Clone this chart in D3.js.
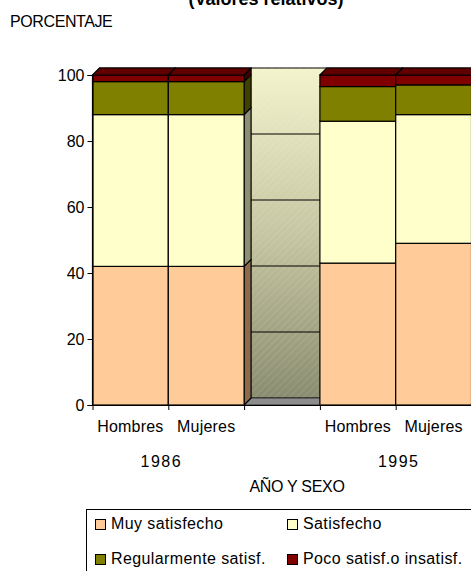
<!DOCTYPE html>
<html><head><meta charset="utf-8">
<script src="https://cdn.jsdelivr.net/npm/d3@7/dist/d3.min.js"></script>
<style>
body{margin:0;background:#fff}
svg{display:block}
text{font-family:"Liberation Sans",Arial,sans-serif;fill:#000}
</style>
</head><body>
<svg id="c" width="471" height="571"></svg>
<script>
// ---- data ----
const categories = ["Hombres", "Mujeres", "", "Hombres", "Mujeres"];
const yearLabels = ["1986", "1995"];
const seriesNames = ["Muy satisfecho", "Satisfecho", "Regularmente satisf.", "Poco satisf.o insatisf."];
const muySatisfecho = [42, 42, null, 43, 49];
const satisfecho = [46, 46, null, 43, 39];
const regularmente = [10, 10, null, 10.5, 9];
const poco = [2, 2, null, 3.5, 3];
const yTicks = [0, 20, 40, 60, 80, 100];
const titleText = "(Valores relativos)";
const yTitle = "PORCENTAJE";
const xTitle = "AÑO Y SEXO";

// ---- styles ----
const frontColors = ["#FFCC99", "#FFFFCC", "#808000", "#800000"];
const sideColors = ["#8C6A4C", "#8E8E72", "#404000", "#400000"];
const topColors = ["#CCA37A", "#CCCCA3", "#606000", "#600000"];
const dx = 7, dy = -7;

const svg = d3.select("#c");
const defs = svg.append("defs");
const grad = defs.append("linearGradient").attr("id", "wall")
  .attr("x1", 0).attr("y1", 0).attr("x2", 0).attr("y2", 1);
grad.append("stop").attr("offset", "0%").attr("stop-color", "#F3F3CC");
grad.append("stop").attr("offset", "50%").attr("stop-color", "#C6C6A2");
grad.append("stop").attr("offset", "100%").attr("stop-color", "#8A8C70");
const pat = defs.append("pattern").attr("id", "hatch").attr("patternUnits", "userSpaceOnUse")
  .attr("width", 5).attr("height", 5).attr("patternTransform", "rotate(45)");
pat.append("line").attr("x1", 0).attr("y1", 0).attr("x2", 0).attr("y2", 5)
  .attr("stroke", "#ffffff").attr("stroke-opacity", 0.18).attr("stroke-width", 1.2);

// ---- scales ----
const y = d3.scaleLinear().domain([0, 100]).range([405, 75]);
const xb = d3.scaleLinear().domain([0, categories.length]).range([92.5, 471.5]);

// ---- stacked data ----
const rows = categories.map((c, i) => ({
  i, valid: muySatisfecho[i] != null,
  [seriesNames[0]]: muySatisfecho[i] || 0,
  [seriesNames[1]]: satisfecho[i] || 0,
  [seriesNames[2]]: regularmente[i] || 0,
  [seriesNames[3]]: poco[i] || 0
}));
const stacked = d3.stack().keys(seriesNames)(rows);

// ---- back wall ----
const wx0 = xb(0) + dx, wx1 = xb(categories.length) + dx;
svg.append("rect").attr("x", wx0).attr("y", y(100) + dy)
  .attr("width", wx1 - wx0).attr("height", y(0) - y(100))
  .attr("fill", "url(#wall)").attr("stroke", "#000").attr("stroke-width", 1);
svg.append("rect").attr("x", wx0).attr("y", y(100) + dy)
  .attr("width", wx1 - wx0).attr("height", y(0) - y(100))
  .attr("fill", "url(#hatch)");
svg.append("g").selectAll("line").data(yTicks.filter(t => t > 0 && t < 100)).join("line")
  .attr("x1", wx0).attr("x2", wx1)
  .attr("y1", d => y(d) + dy).attr("y2", d => y(d) + dy)
  .attr("stroke", "#000").attr("stroke-width", 1);

// ---- floor ----
const fl = [[xb(0), y(0)], [xb(0) + dx, y(0) + dy], [xb(categories.length) + dx, y(0) + dy], [xb(categories.length), y(0)]];
svg.append("polygon").attr("points", fl.map(p => p.join(",")).join(" "))
  .attr("fill", "#8C8C8C").attr("stroke", "#333").attr("stroke-width", 1);

// ---- bars ----
const gBars = svg.append("g");
rows.forEach((r, i) => {
  if (!r.valid) return;
  const x0 = xb(i), x1 = xb(i + 1);
  const g = gBars.append("g");
  stacked.forEach((s, k) => {
    const y0 = y(s[i][0]), y1 = y(s[i][1]);
    g.append("polygon")
      .attr("points", [[x1, y1], [x1 + dx, y1 + dy], [x1 + dx, y0 + dy], [x1, y0]].map(p => p.join(",")).join(" "))
      .attr("fill", sideColors[k]).attr("stroke", "#000").attr("stroke-width", 1.2).attr("stroke-linejoin", "round");
  });
  stacked.forEach((s, k) => {
    const y0 = y(s[i][0]), y1 = y(s[i][1]);
    g.append("rect").attr("x", x0).attr("y", y1).attr("width", x1 - x0).attr("height", y0 - y1)
      .attr("fill", frontColors[k]).attr("stroke", "#000").attr("stroke-width", 1.2);
  });
  const last = stacked.length - 1;
  const yt = y(stacked[last][i][1]);
  g.append("polygon")
    .attr("points", [[x0, yt], [x0 + dx, yt + dy], [x1 + dx, yt + dy], [x1, yt]].map(p => p.join(",")).join(" "))
    .attr("fill", topColors[last]).attr("stroke", "#000").attr("stroke-width", 1.2).attr("stroke-linejoin", "round");
});

// ---- axes ----
const yAxis = svg.append("g").attr("transform", `translate(${xb(0)},0)`)
  .call(d3.axisLeft(y).tickValues(yTicks).tickSize(5).tickPadding(3).tickFormat(d3.format("d")));
yAxis.select(".domain").attr("stroke", "#000").attr("stroke-width", 1.2);
yAxis.selectAll(".tick line").attr("stroke", "#000");
yAxis.selectAll("text").attr("font-size", 16).attr("font-family", '"Liberation Sans",Arial,sans-serif').attr("fill", "#000");

const xAxis = svg.append("g").attr("transform", `translate(0,${y(0)})`)
  .call(d3.axisBottom(xb).tickValues(d3.range(categories.length + 1)).tickSize(5).tickSizeOuter(0).tickFormat(""));
xAxis.select(".domain").attr("stroke", "#000").attr("stroke-width", 1.2);
xAxis.selectAll(".tick line").attr("stroke", "#000");

svg.append("g").selectAll("text").data(categories).join("text")
  .attr("x", (d, i) => (xb(i) + xb(i + 1)) / 2).attr("y", 432)
  .attr("text-anchor", "middle").attr("font-size", 16).attr("letter-spacing", 0.2)
  .text(d => d);

svg.append("g").selectAll("text").data(yearLabels).join("text")
  .attr("x", (d, i) => i === 0 ? xb(1) - 7 : xb(4) + 3).attr("y", 467)
  .attr("text-anchor", "middle").attr("font-size", 16).attr("letter-spacing", 1.5)
  .text(d => d);

svg.append("text").attr("x", 297).attr("y", 492).attr("text-anchor", "middle")
  .attr("font-size", 16).attr("letter-spacing", -0.3).text(xTitle);

svg.append("text").attr("x", 10).attr("y", 27).attr("font-size", 16).attr("letter-spacing", -0.4).text(yTitle);

svg.append("text").attr("x", 266).attr("y", 5).attr("text-anchor", "middle")
  .attr("font-size", 18).attr("font-weight", "bold").text(titleText);

// ---- legend ----
const lg = svg.append("g");
lg.append("rect").attr("x", 86.5).attr("y", 509.5).attr("width", 420).attr("height", 80)
  .attr("fill", "none").attr("stroke", "#000").attr("stroke-width", 1);
const legPos = [[95, 519], [287, 519], [95, 554], [287, 554]];
seriesNames.forEach((n, k) => {
  const [lx, ly] = legPos[k];
  lg.append("rect").attr("x", lx + 0.5).attr("y", ly + 0.5).attr("width", 10).attr("height", 10)
    .attr("fill", frontColors[k]).attr("stroke", "#000").attr("stroke-width", 1);
  lg.append("text").attr("x", lx + 16).attr("y", ly + 9.5).attr("font-size", 16).attr("letter-spacing", 0.4).text(n);
});
</script>
</body></html>
